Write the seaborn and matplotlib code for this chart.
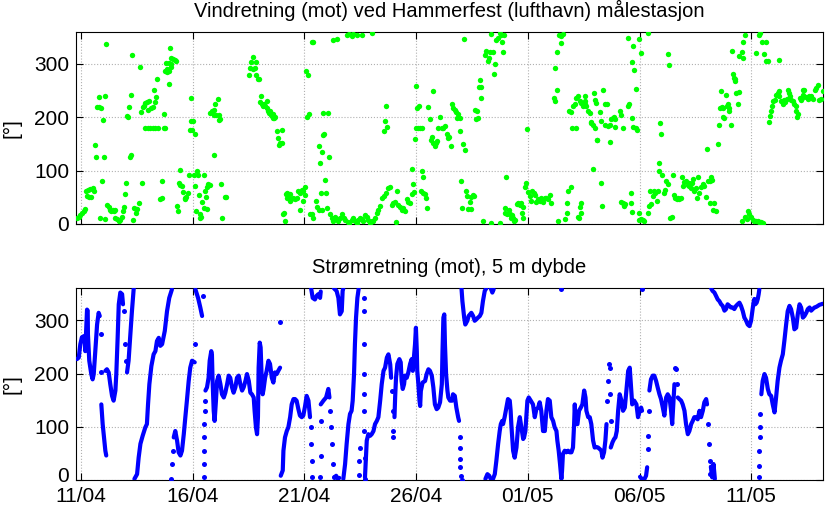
import matplotlib
matplotlib.use("Agg")
import matplotlib.pyplot as plt
import matplotlib.dates as mdates
from matplotlib.transforms import ScaledTranslation
import pandas as pd
import seaborn as sns

START = pd.Timestamp("2014-04-11")

# Wind direction (towards). Time = days after 11/04 00:00
wind_day = [
    -0.18, -0.10, -0.03, 0.04, 0.12, 0.19,
    0.22, 0.31, 0.42, 0.52, 0.60, 0.27, 0.34, 0.45,
    0.64, 0.67, 1.01, 0.72, 0.79, 0.90, 0.79, 1.09, 0.97, 0.93, 1.12, 0.84, 1.06,
    1.16, 1.24, 1.31, 1.36, 1.42, 1.46, 1.51, 1.54, 1.61, 1.69, 1.76, 1.84, 1.87, 1.91,
    2.01, 1.98, 2.06, 2.09, 2.13, 2.22, 2.18, 2.25, 2.30, 2.37, 2.45, 2.52, 2.60, 2.46, 2.33,
    2.64, 2.72, 2.67, 2.76, 2.80, 2.88, 2.95, 3.03, 3.00, 3.12, 3.21, 3.33,
    2.88, 2.98, 3.10, 3.22, 3.33, 3.45, 3.70, 3.77, 3.27, 3.37, 3.42,
    3.55, 3.63, 3.63, 3.73, 3.78, 3.87, 3.92, 4.04, 3.85, 3.82, 3.92, 4.01,
    4.03, 4.10, 4.19, 4.27, 4.00, 3.92, 4.30, 4.34, 4.42, 4.37, 4.45, 4.52,
    4.55, 4.64, 4.72, 4.79, 4.85, 4.67, 4.89, 4.97, 5.01, 4.94, 4.94, 5.09,
    5.04, 5.12, 5.19, 5.24, 5.15, 5.27, 5.34, 5.39, 5.31,
    5.52, 5.57, 5.64, 5.69, 5.76, 5.42, 5.49, 5.60, 5.66,
    5.79, 5.87, 5.94, 6.01, 6.12, 5.97, 6.04, 6.16, 6.19, 6.24, 5.95,
    6.27, 6.31, 6.43, 6.51,
    7.50, 7.62, 7.68, 7.77, 7.85, 7.82, 7.92, 7.98, 7.58, 7.70,
    8.07, 8.03, 8.10, 8.16,
    8.19, 8.24, 8.31, 8.34, 8.39, 8.43, 8.49, 8.54, 8.58, 8.64, 8.68, 8.61, 8.46,
    8.76, 8.83, 8.91, 8.88, 8.98, 9.01, 9.05, 9.09, 9.14,
    9.17, 9.23, 9.27, 9.31, 9.37, 9.41, 9.49, 9.56, 9.65, 9.23, 9.35,
    9.73, 9.81, 9.88, 9.95, 10.03, 9.81, 9.93, 10.03,
    10.07, 10.17, 10.10, 10.22, 10.33, 10.37, 10.25, 10.33, 10.40,
    10.52, 10.58, 10.67, 10.77, 10.64, 10.70, 10.77, 10.88, 10.82, 10.85, 11.07,
    10.74, 10.98, 10.93, 11.12, 11.03, 11.15, 11.22, 11.30, 11.37, 11.45, 11.52, 11.60, 11.67, 11.75,
    11.30, 11.48,
    11.82, 11.93, 12.01, 12.11, 12.19, 12.26, 12.34, 12.41, 12.49, 12.56, 12.64, 12.71, 12.79, 12.86, 12.94, 13.01, 13.09, 13.16,
    11.92, 12.01, 12.11, 12.18, 12.36, 12.56, 13.01,
    13.24, 13.31, 13.39, 13.46, 13.54, 13.66, 13.76, 13.83, 13.56, 13.61, 13.68, 13.66, 14.10,
    13.91, 13.98, 14.06, 14.13, 14.21, 14.28, 14.35, 14.43, 14.50, 14.58, 14.65, 14.72, 14.80, 14.84, 14.90, 14.80,
    15.00, 14.95, 15.05, 15.10, 15.17, 15.25, 15.15, 15.00, 15.77, 15.25, 15.29,
    15.21, 15.29, 15.40, 15.43, 15.47,
    15.55, 15.62, 15.69, 15.77, 15.67, 15.84, 15.89, 15.92, 15.99, 16.07, 16.15, 16.22, 16.29, 16.37, 16.44, 16.49, 16.55, 16.59,
    16.65, 16.73, 16.80, 16.88, 16.85, 16.95, 16.98, 17.10, 17.20,
    17.03, 17.06, 17.25, 17.29, 17.32, 17.40, 17.47, 17.55, 17.59, 17.44, 17.14,
    17.65, 17.74, 17.70, 17.77, 17.85, 17.80, 17.92, 17.89,
    18.00, 18.07, 18.14, 18.22, 18.26, 18.29, 18.44, 18.47, 18.52, 18.59, 18.67, 18.74, 18.82, 18.86, 18.89, 18.93, 18.37,
    18.34, 18.74, 18.96, 19.04, 18.99, 19.08, 19.14, 19.19, 19.23, 19.29, 19.34, 19.38, 19.44,
    19.50, 19.56, 19.63, 19.71, 19.78, 19.74, 19.78, 19.89, 19.93, 20.01, 19.98,
    20.08, 20.12, 20.19, 20.28, 20.34, 20.38, 20.46, 20.53, 20.60, 20.68, 20.76, 20.83, 20.90, 20.98, 21.05,
    21.17, 21.23, 21.32, 21.20, 21.32, 21.40, 21.47, 21.50, 21.58,
    21.35, 21.68, 21.73, 21.77, 21.80, 21.95,
    21.84, 21.92, 21.98, 22.17, 22.02, 22.10, 22.17, 22.25, 22.32, 22.40,
    22.47, 22.55, 22.62, 22.70, 22.77, 22.81, 22.84, 22.92, 22.99, 23.10,
    22.55, 22.58, 22.96, 23.02, 23.07, 23.37, 23.47, 23.52, 23.22, 23.29,
    23.44, 23.59, 23.66, 23.74, 23.81, 23.84, 23.89, 23.89,
    24.11, 24.16, 24.26, 24.49, 24.53, 24.64, 24.71, 24.86, 24.90, 23.11, 23.66,
    22.93, 23.26, 22.32, 22.37, 22.29, 22.25, 22.37, 23.32,
    24.19, 24.26, 24.31, 24.37, 24.61, 24.61, 24.64, 24.96, 24.99,
    24.49, 24.71, 24.68, 24.74, 24.83, 24.96,
    25.07, 25.37, 25.07, 25.14, 25.22,
    25.37, 25.44, 25.51, 25.59, 25.47, 25.66, 25.71, 25.77, 25.81, 25.86,
    25.89, 26.01, 26.11, 26.16, 26.19, 26.26, 26.36, 26.46,
    25.93, 25.98, 26.26, 26.31,
    26.48, 26.56, 26.60, 26.66, 26.71, 26.78, 26.86, 26.90, 26.96, 27.01,
    27.08, 27.15, 27.20, 27.23, 27.30, 27.35, 27.41, 27.45, 27.53, 27.56,
    27.62, 27.68, 27.75, 27.83, 27.90, 27.98, 28.05, 28.13, 28.16, 28.20,
    28.25, 28.30, 28.35, 28.42,
    28.01, 28.50,
    28.57, 28.60, 28.64, 28.69, 28.72, 28.75, 28.79, 28.87, 28.90, 28.94,
    28.99, 29.02, 29.10, 29.17, 29.22, 29.26, 29.29, 29.32, 29.39, 29.44,
    29.14, 29.47, 29.59, 29.65, 29.71, 29.62,
    29.59, 29.74, 29.84, 29.92, 29.99, 30.07, 30.14, 30.22, 30.29, 30.36, 30.44, 30.51, 29.80,
    30.22, 30.34, 30.40, 30.49, 30.59, 30.66, 30.66, 30.74, 31.26,
    30.78, 30.84, 30.89, 30.93, 30.99, 31.04, 31.11, 31.18, 31.23, 31.26,
    31.34, 31.41, 31.48, 31.53, 31.59, 31.64, 31.71, 31.74, 31.78, 31.86,
    31.89, 31.98, 32.01, 32.04, 32.09, 32.16, 32.23, 32.28, 32.33, 32.38,
    32.46, 32.53, 32.58, 32.61, 32.68, 32.75, 32.83, 32.90, 32.98, 33.02,
    33.12, 33.20, 32.31,
]
wind_deg = [
    12, 14, 17, 21, 25, 29,
    62, 64, 66, 67, 61, 52, 51, 50,
    149, 126, 125, 219, 219, 217, 238, 240, 195, 81, 337, 11, 9,
    35, 31, 27, 25, 27, 25, 27, 11, 9, 6, 8, 14, 24, 32,
    77, 57, 202, 200, 220, 241, 126, 130, 316, 30, 29, 28, 39, 20, 8,
    295, 77, 209, 219, 222, 227, 229, 230, 214, 217, 219, 228,
    180, 180, 180, 180, 180, 180, 180, 180, 252, 238, 272,
    46, 48, 80, 206, 286, 291, 287, 294, 284, 302, 301, 300,
    312, 309, 307, 306, 329, 263, 33, 25, 102, 77, 74, 71,
    60, 48, 50, 58, 91, 46, 176, 176, 194, 194, 236, 169,
    92, 72, 99, 92, 25, 55, 19, 14, 12,
    92, 61, 69, 75, 74, 41, 30, 51, 29,
    208, 211, 214, 225, 235, 204, 204, 195, 204, 196, 130,
    75, 12, 50, 50,
    279, 303, 313, 292, 304, 279, 271, 271, 292, 291,
    239, 229, 224, 222,
    224, 221, 231, 218, 211, 208, 205, 202, 199, 198, 200, 206, 212,
    174, 162, 152, 149, 152, 176, 18, 21, 6,
    56, 49, 53, 48, 44, 46, 49, 46, 48, 58, 56,
    62, 58, 64, 62, 55, 27, 44, 69,
    286, 280, 201, 206, 342, 342, 19, 18, 12,
    44, 32, 27, 27, 146, 114, 135, 168, 166, 208, 208,
    58, 59, 83, 126, 30, 18, 11, 6, 14, 10, 6, 11, 18, 12,
    344, 346,
    8, 3, 2, 8, 11, 5, 2, 8, 11, 10, 5, 17, 14, 8, 2, 5, 6, 11,
    354, 356, 352, 356, 355, 354, 358,
    21, 27, 33, 49, 52, 58, 68, 69, 175, 194, 182, 221, 4,
    36, 39, 42, 61, 36, 31, 27, 30, 24, 46, 42, 39, 56, 75, 60, 104,
    180, 160, 218, 180, 180, 180, 222, 258, 250, 100, 88,
    61, 58, 56, 49, 30,
    220, 196, 164, 152, 158, 146, 152, 156, 180, 200, 180, 180, 183, 168, 161, 164, 146, 224,
    218, 214, 210, 206, 199, 198, 175, 150, 138,
    81, 30, 61, 52, 29, 42, 50, 55, 52, 29, 347,
    214, 211, 196, 198, 269, 256, 256, 236,
    6, 316, 324, 306, 311, 322, 322, 281, 299, 344, 349, 358, 354, 342, 322, 355, 357,
    2, 2, 30, 88, 21, 19, 27, 18, 12, 16, 11, 6, 8,
    38, 39, 36, 39, 31, 21, 12, 69, 77, 60, 179,
    52, 44, 62, 58, 55, 42, 46, 44, 48, 42, 49, 48, 46, 54, 39,
    236, 231, 252, 292, 322, 355, 352, 339, 356,
    5, 10, 21, 39, 61, 69,
    212, 210, 180, 180, 222, 225, 236, 239, 231, 227,
    222, 224, 222, 212, 208, 192, 189, 185, 180, 158,
    239, 231, 246, 233, 227, 252, 224, 225, 210, 194,
    185, 183, 186, 196, 199, 200, 196, 181,
    212, 205, 180, 222, 225, 199, 181, 180, 177, 158, 154,
    104, 77, 31, 39, 12, 14, 21, 33,
    42, 39, 33, 38, 58, 39, 22, 21, 8,
    349, 333, 304, 289, 253, 346,
    321, 358, 10, 8, 6,
    21, 33, 38, 52, 62, 61, 58, 44, 61, 100,
    114, 92, 58, 64, 81, 75, 11, 14,
    189, 168, 318, 298,
    92, 55, 49, 46, 48, 46, 49, 89, 71, 79,
    81, 74, 77, 71, 68, 77, 85, 61, 68, 49,
    88, 58, 69, 75, 71, 50, 81, 80, 39, 89,
    83, 27, 39, 24,
    141, 150,
    186, 218, 249, 220, 218, 200, 199, 241, 222, 225,
    218, 211, 186, 281, 274, 271, 268, 246, 224, 248,
    325, 314, 322, 341, 355, 312,
    5, 14, 25, 19, 14, 8, 6, 5, 5, 4, 4, 2, 10,
    321, 355, 358, 341, 318, 341, 306, 306, 308,
    191, 202, 212, 222, 230, 233, 241, 245, 249, 239,
    231, 225, 233, 229, 235, 252, 246, 239, 233, 231,
    225, 212, 221, 200, 206, 236, 233, 236, 241, 252,
    238, 235, 239, 236, 239, 235, 252, 255, 261, 233,
    235, 250, 252,
]

# Current direction at 5 m: traced runs of the dense record, None = break
cur_day = [
    -0.18, -0.10, -0.03, 0.04, 0.12, 0.16, 0.19, 0.24, 0.27, 0.30, 0.31, 0.37, 0.46, 0.52, 0.57, 0.64, 0.72, 0.79, 0.84, None,
    0.91, 0.97, 1.03, 1.09, 1.13, None,
    1.09, 1.16, 1.24, 1.31, 1.39, 1.46, 1.54, 1.58, 1.64, 1.69, 1.76, 1.84, 1.88, None,
    2.06, 2.13, 2.21, 2.28, 2.36, None,
    2.39, 2.51, 2.58, 2.66, 2.76, 2.88, 2.95, 3.00, 3.06, 3.15, 3.25, 3.33, 3.40, 3.48, 3.55, 3.63, 3.75, 3.85, 3.95, 4.07, None,
    4.15, 4.22, 4.30, 4.37, 4.45, 4.52, 4.60, 4.67, 4.74, 4.82, 4.89, 4.97, 5.09, None,
    5.12, 5.24, 5.34, 5.42, None,
    5.57, 5.64, 5.71, 5.76, 5.83, 5.86, 5.89, 5.94, 5.98, 6.04, 6.09, 6.16, 6.24, 6.31, 6.39, 6.46, 6.54, 6.61,
    6.68, 6.76, 6.83, 6.91, 6.98, 7.06, 7.13, 7.21, 7.28, 7.36, 7.43, 7.51, 7.58, 7.65, 7.73, 7.77, 7.83, 7.88,
    7.92, 7.95, 8.00, 8.04, 8.08, 8.13, 8.17, 8.24, 8.31, 8.39, 8.46, 8.54, 8.61, 8.68, 8.76, 8.83, 8.91, None,
    8.94, 9.03, 9.06, 9.13, 9.21, 9.28, 9.36, 9.43, 9.51, 9.58, 9.65, 9.73, 9.80, 9.88, 9.95, 10.03, 10.10, 10.18, 10.25, None,
    10.30, 10.37, 10.47, 10.55, 10.62, 10.70, 10.73, None,
    10.73, 10.85, 10.97, 11.07, 11.12, None,
    11.35, 11.42, 11.50, 11.56, None,
    11.32, 11.44, 11.52, 11.59, 11.67, 11.71, 11.74, None,
    11.74, 11.82, 11.89, 11.97, 12.04, 12.11, 12.16, 12.22, 12.26, 12.31, 12.37, 12.43, None,
    12.71, 12.79, 12.86, 12.94, 13.01, 13.09, 13.16, 13.24, 13.31, 13.39, 13.46, 13.54, 13.61, 13.69, 13.76, 13.84, 13.88, None,
    14.03, 14.06, 14.10, 14.16, 14.25, 14.31, 14.35, 14.40, 14.46, 14.50, 14.58, 14.65, 14.73, 14.80, 14.85, 14.90, 14.95,
    14.99, 15.03, 15.05, 15.10, 15.15, 15.18, 15.21, 15.29, 15.40, 15.47, 15.55, 15.62, 15.70, 15.77, 15.84, 15.92,
    15.99, 16.07, 16.15, 16.18, 16.22, 16.26, 16.29, 16.34, 16.40, 16.44, 16.52, 16.61, 16.65, 16.73, 16.80, 16.88, 16.92, None,
    17.03, 17.07, 17.15, 17.20, 17.29, 17.35, 17.47, 17.55, 17.62, 17.70, 17.77, 17.85, 17.92, 17.99, 18.07, 18.14, None,
    18.34, 18.41, 18.47, None,
    18.10, 18.19, 18.27, 18.34, None,
    18.44, 18.52, 18.59, 18.67, 18.74, 18.79, 18.85, 18.89, 18.96, 19.04, 19.11, 19.19, 19.23, 19.26, 19.34, 19.41,
    19.49, 19.56, 19.64, 19.71, 19.79, 19.83, 19.89, 19.93, 19.98, 20.04, 20.13, 20.23, 20.31, 20.38, 20.46, 20.53,
    20.60, 20.68, 20.76, 20.83, 20.90, 20.98, 21.05, 21.13, 21.20, 21.28, 21.32, 21.38, 21.44, 21.50, 21.53, 21.57,
    21.65, 21.72, 21.80, 21.88, 21.95, 22.02, 22.07, 22.10, 22.14, 22.22, 22.29, 22.37, 22.44, 22.52, 22.58, 22.62,
    22.70, 22.77, 22.84, 22.92, 22.99, 23.07, 23.14, 23.22, 23.29, 23.34, 23.41, 23.47, 23.52, None,
    23.71, 23.79, 23.86, 23.92, 23.98, 24.04, 24.11, 24.19, 24.26, 24.34, 24.41, 24.49, 24.56, 24.61, 24.67, 24.76,
    24.86, 24.93, 25.01, 25.07, 25.11, None,
    25.02, 25.14, 25.22, 25.29, 25.34, None,
    25.44, 25.51, 25.59, 25.66, 25.74, 25.81, 25.89, 25.96, 26.04, 26.11, 26.19, 26.26, 26.34, 26.41, 26.46, 26.51, 26.56, None,
    26.71, 26.78, 26.86, 26.93, 27.01, 27.08, 27.16, 27.23, 27.31, 27.38, 27.45, 27.53, 27.60, 27.68, 27.75, 27.83,
    27.90, 27.98, 28.02, None,
    28.19, 28.25, 28.31, 28.37, None,
    28.20, 28.27, 28.35, 28.42, 28.50, 28.57, 28.65, 28.72, 28.80, 28.87, 28.94, 29.02, 29.09, 29.17, 29.24, 29.32,
    29.39, 29.47, 29.54, 29.62, 29.69, 29.77, 29.84, 29.92, 29.99, 30.07, 30.10, 30.14, 30.18, 30.24, 30.29, 30.33, 30.36, None,
    30.45, 30.51, 30.59, 30.66, 30.74, 30.81, 30.89, 30.96, 31.04, 31.11, 31.18, 31.26, 31.33, 31.41, 31.48, 31.56,
    31.63, 31.71, 31.78, 31.86, 31.93, 32.01, 32.08, 32.16, 32.23, 32.31, 32.38, 32.46, 32.53, 32.61, 32.68, 32.75,
    32.83, 32.90, 32.98, 33.05, 33.13, 33.20,
]
cur_deg = [
    227, 230, 255, 268, 270, 268, 242, 290, 320, 318, 274, 224, 199, 189, 199, 242, 292, 314, 308, None,
    142, 105, 80, 55, 46, None,
    205, 208, 202, 180, 158, 149, 168, 199, 267, 330, 352, 349, 330, None,
    202, 224, 274, 317, 360, None,
    2, 11, 42, 68, 83, 99, 105, 142, 180, 214, 236, 242, 261, 267, 252, 255, 280, 317, 342, 358, None,
    80, 92, 74, 52, 46, 55, 86, 118, 149, 186, 211, 224, 221, None,
    358, 342, 324, 308, None,
    168, 174, 192, 224, 242, 236, 186, 130, 111, 149, 186, 196, 180, 161, 155, 164, 180, 196,
    192, 174, 164, 174, 192, 196, 180, 168, 174, 186, 199, 186, 164, 161, 155, 130, 99, 86,
    118, 211, 258, 249, 200, 161, 170, 192, 205, 224, 218, 192, 183, 202, 199, 205, 211, None,
    8, 18, 55, 80, 92, 99, 118, 142, 152, 152, 149, 133, 121, 118, 121, 139, 158, 149, 118, None,
    360, 342, 339, 346, 349, 342, 354, None,
    142, 149, 155, 171, 155, None,
    5, 8, 2, 4, None,
    360, 355, 342, 311, 317, 355, 360, None,
    2, 30, 68, 105, 124, 130, 149, 199, 255, 305, 342, 360, None,
    5, 74, 86, 83, 86, 92, 105, 111, 118, 149, 180, 205, 211, 230, 236, 217, 192, None,
    118, 155, 192, 218, 227, 221, 186, 171, 180, 196, 192, 202, 218, 227, 205, 230, 255,
    286, 242, 205, 180, 149, 139, 167, 183, 186, 199, 208, 205, 196, 174, 142, 133,
    136, 146, 180, 242, 305, 311, 255, 199, 168, 155, 149, 149, 161, 158, 136, 118, 111, None,
    360, 336, 305, 292, 299, 308, 314, 308, 299, 302, 305, 308, 314, 336, 355, 360, None,
    360, 352, 358, None,
    2, 11, 8, 2, None,
    2, 11, 36, 68, 92, 105, 111, 105, 118, 136, 152, 149, 130, 105, 55, 42,
    61, 99, 118, 99, 77, 80, 92, 118, 149, 155, 149, 142, 118, 133, 136, 146,
    130, 92, 92, 130, 152, 149, 118, 111, 99, 92, 74, 55, 30, 2, 17, 49,
    55, 52, 55, 52, 52, 61, 105, 142, 105, 105, 130, 136, 142, 168, 155, 130,
    118, 118, 105, 74, 61, 62, 61, 58, 55, 42, 52, 74, 105, None,
    61, 71, 77, 80, 92, 130, 161, 149, 130, 136, 168, 205, 211, 180, 142, 149,
    142, 118, 130, 136, 130, None,
    6, 0, 2, 8, 24, None,
    168, 189, 196, 196, 186, 174, 161, 152, 136, 121, 155, 161, 155, 130, 105, 142, 180, None,
    155, 152, 149, 142, 130, 105, 86, 92, 105, 111, 118, 118, 114, 130, 118, 130,
    146, 152, 142, None,
    25, 5, 30, 2, None,
    360, 355, 352, 346, 339, 336, 330, 327, 318, 321, 330, 327, 324, 324, 321, 327,
    330, 333, 327, 317, 305, 299, 292, 289, 299, 324, 333, 340, 330, 333, 340, 349, 358, None,
    161, 186, 199, 192, 171, 161, 158, 142, 127, 155, 186, 211, 224, 236, 261, 292,
    317, 327, 321, 305, 283, 286, 311, 330, 324, 305, 308, 314, 321, 324, 318, 321,
    324, 325, 327, 329, 330, 331,
]

# Single current samples during fast turns (drawn as separate dots)
cur_dot_day = [
    0.88, 0.91, 1.94, 1.98, 2.03, 4.04, 4.07, 4.10, 5.12, 5.46,
    5.49, 5.51, 5.51, 5.52, 5.52, 5.54, 5.55, 8.91,
    10.28, 10.30, 10.32, 10.32, 10.70, 10.73, 10.73,
    11.15, 11.18, 11.22, 11.26, 11.32, 12.44, 12.46, 12.48,
    12.66, 12.66, 12.67, 12.67, 12.67, 12.67, 12.68, 12.69, 12.70,
    13.91, 13.95, 13.98, 13.98,
    16.95, 16.95, 16.97, 16.98, 17.03, 17.07,
    23.56, 23.59, 23.62, 23.67, 23.67, 23.70, 21.50,
    25.37, 25.38, 25.41, 25.11, 26.60, 26.63, 26.66,
    28.05, 28.10, 28.13, 28.16,
    30.33, 30.33, 30.36, 30.38, 30.39, 30.41,
]
cur_dot_deg = [
    274, 202, 317, 255, 224, 2, 30, 55, 255, 346,
    6, 30, 55, 80, 105, 130, 149, 296,
    99, 67, 36, 6, 5, 46, 111,
    130, 99, 67, 30, 6, 10, 35, 60,
    342, 317, 255, 199, 161, 130, 92, 42, 2,
    168, 130, 92, 80,
    80, 61, 39, 24, 8, 0,
    149, 186, 218, 211, 161, 111, 358,
    58, 83, 130, 358, 211, 208, 180,
    105, 67, 36, 11,
    6, 27, 55, 80, 99, 124,
]

tick_dates = pd.date_range(START, periods=7, freq="5D")
titles = ["Vindretning (mot) ved Hammerfest (lufthavn) målestasjon",
          "Strømretning (mot), 5 m dybde"]

wind = pd.DataFrame({"day": wind_day, "deg": wind_deg})
wind["time"] = START + pd.to_timedelta(wind["day"], unit="D")

cur = pd.DataFrame({"day": cur_day, "deg": cur_deg}, dtype=float)
cur["seg"] = cur["day"].isna().cumsum()
cur = cur.dropna()
cur["time"] = START + pd.to_timedelta(cur["day"], unit="D")

dots = pd.DataFrame({"day": cur_dot_day, "deg": cur_dot_deg})
dots["time"] = START + pd.to_timedelta(dots["day"], unit="D")

plt.rcParams["font.family"] = ["Liberation Sans", "DejaVu Sans"]

fig = plt.figure(figsize=(8.33, 5.13), dpi=100)
ax1 = fig.add_axes([0.0912, 0.5634, 0.8968, 0.3743])
ax2 = fig.add_axes([0.0912, 0.0643, 0.8968, 0.3737])

sns.scatterplot(data=wind, x="time", y="deg", ax=ax1, color="#00ff00",
                s=15, linewidth=0, zorder=3)
sns.lineplot(data=cur, x="time", y="deg", units="seg", estimator=None, sort=False,
             ax=ax2, color="#0000ff", lw=3.0, solid_capstyle="round", zorder=3)
sns.scatterplot(data=dots, x="time", y="deg", ax=ax2, color="#0000ff",
                s=13, linewidth=0, zorder=3)

for ax, title in zip((ax1, ax2), titles):
    ax.set_xlim(START - pd.Timedelta(hours=5.4), START + pd.Timedelta(days=33.21))
    ax.set_ylim(0, 360)
    ax.set_yticks([0, 100, 200, 300])
    ax.set_xticks(tick_dates)
    ax.xaxis.set_major_formatter(mdates.DateFormatter("%d/%m"))
    ax.grid(True, linestyle=":", linewidth=0.8, color="#b0b0b0")
    ax.tick_params(direction="in", length=5, width=0.8, top=True, right=True,
                   labelsize=15)
    ax.tick_params(axis="y", pad=5)
    ax.tick_params(axis="x", pad=5)
    ax.set_title(title, fontsize=14.5, pad=11)
    ax.set_xlabel("")
    ax.set_ylabel("[°]", fontsize=15)
    ax.yaxis.set_label_coords(-0.073, 0.5)
    for sp in ax.spines.values():
        sp.set_linewidth(0.8)
        sp.set_color("black")

ax1.tick_params(labelbottom=False)

# lift the bottom "0" a little so it clears the first date label
zero_lbl = ax2.yaxis.get_major_ticks()[0].label1
zero_lbl.set_transform(zero_lbl.get_transform()
                       + ScaledTranslation(0, 0.055, fig.dpi_scale_trans))

fig.savefig("out.png", dpi=100)
